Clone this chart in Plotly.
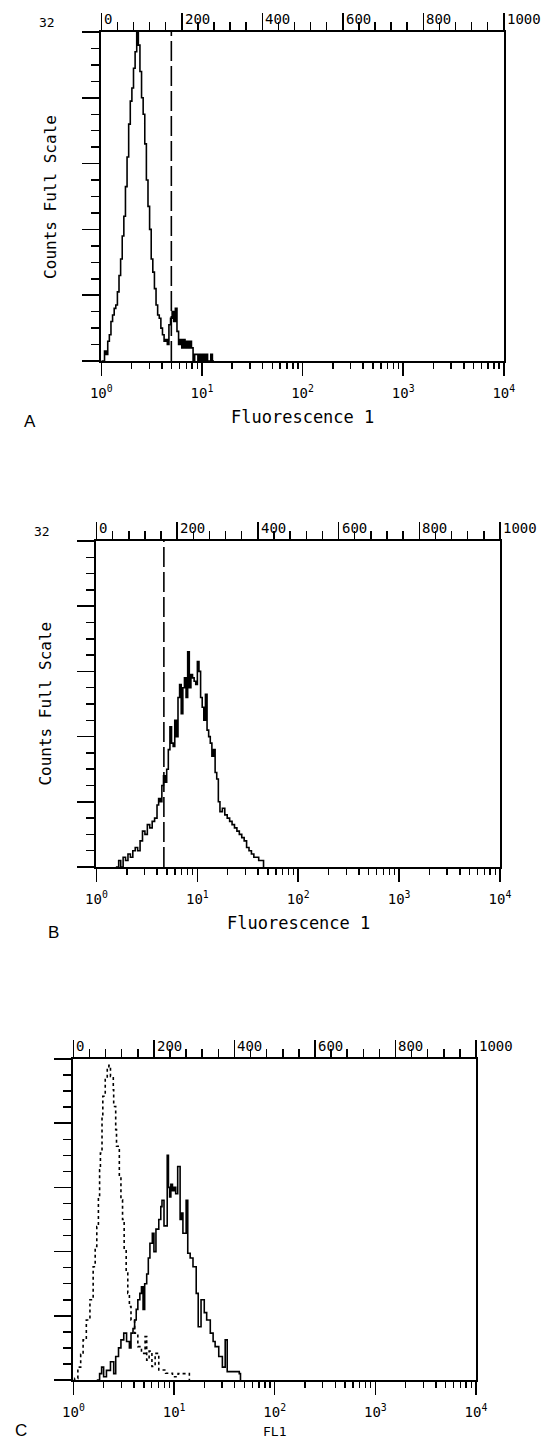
import plotly.graph_objects as go

W, H = 559, 1441

# ---------------- data (channel 0-1000 spans 10^0..10^4; counts as fraction of full scale) -------------
A_CH = [0, 4, 8, 12, 16, 20, 24, 28, 32, 36, 40, 44, 48, 52, 56, 60, 64, 68, 72, 76, 80, 84, 88,
        92, 96, 100, 104, 108, 112, 116, 120, 124, 128, 132, 136, 140, 144, 148, 152, 156, 160,
        164, 168, 172, 176, 180, 184, 188, 192, 196, 200, 204, 208, 212, 216, 220, 224, 228,
        232, 236, 240, 244, 248, 252, 256, 260, 264, 272, 276, 280]
A_CNT = [0, 0.0, 0.03, 0.02, 0.06, 0.08, 0.12, 0.14, 0.16, 0.17, 0.21, 0.26, 0.31, 0.38, 0.44,
         0.53, 0.62, 0.72, 0.79, 0.83, 0.89, 0.94, 1.0, 0.96, 0.88, 0.80, 0.75, 0.66, 0.55, 0.47,
         0.40, 0.31, 0.27, 0.22, 0.17, 0.14, 0.13, 0.10, 0.08, 0.06, 0.065, 0.05, 0.11, 0.13,
         0.15, 0.12, 0.16, 0.09, 0.05, 0.065, 0.04, 0.065, 0.04, 0.06, 0.04, 0.06, 0.04, 0.0,
         0.02, 0.02, 0.0, 0.02, 0.0, 0.02, 0.0, 0.02, 0.0, 0.02, 0.0, 0]

B_CH = [48, 55, 60, 66, 72, 78, 84, 90, 96, 102, 108, 114, 120, 126, 132, 138, 144, 150, 154,
        158, 162, 166, 170, 174, 178, 182, 186, 190, 194, 198, 202, 206, 210, 214, 218, 222,
        226, 230, 234, 238, 242, 246, 250, 254, 258, 262, 266, 270, 274, 278, 282, 286, 290,
        294, 298, 302, 306, 312, 318, 324, 330, 336, 342, 348, 354, 360, 366, 372, 378, 384,
        390, 396, 402, 408, 414]
B_CNT = [0, 0.02, 0.0, 0.03, 0.02, 0.04, 0.03, 0.05, 0.06, 0.05, 0.08, 0.11, 0.10, 0.13, 0.12,
         0.14, 0.15, 0.19, 0.21, 0.20, 0.25, 0.28, 0.26, 0.30, 0.36, 0.43, 0.38, 0.37, 0.45,
         0.40, 0.52, 0.56, 0.47, 0.55, 0.58, 0.52, 0.66, 0.55, 0.59, 0.58, 0.57, 0.56, 0.63,
         0.60, 0.52, 0.49, 0.45, 0.53, 0.42, 0.40, 0.38, 0.34, 0.36, 0.29, 0.27, 0.20, 0.17,
         0.18, 0.16, 0.15, 0.14, 0.13, 0.12, 0.11, 0.10, 0.09, 0.08, 0.06, 0.05, 0.04, 0.03,
         0.03, 0.02, 0.02, 0.0]

C_CH = [58, 65, 70, 75, 82, 92, 100, 105, 112, 118, 125, 132, 139, 143, 148, 152, 156, 160, 165,
        169, 173, 177, 182, 186, 190, 196, 200, 205, 212, 217, 220, 225, 233, 236, 239, 242,
        246, 250, 254, 259, 265, 269, 272, 280, 284, 290, 297, 305, 310, 317, 325, 331, 340,
        347, 352, 361, 370, 377, 382, 400, 412, 415]
C_CNT = [0, 0.02, 0.04, 0.01, 0.03, 0.057, 0.02, 0.073, 0.10, 0.125, 0.146, 0.12, 0.10, 0.146,
         0.16, 0.187, 0.22, 0.25, 0.27, 0.29, 0.22, 0.30, 0.33, 0.38, 0.426, 0.457, 0.40, 0.47,
         0.50, 0.54, 0.56, 0.48, 0.70, 0.60, 0.57, 0.61, 0.59, 0.60, 0.58, 0.665, 0.50, 0.52,
         0.457, 0.56, 0.395, 0.38, 0.353, 0.27, 0.166, 0.25, 0.21, 0.187, 0.146, 0.12, 0.104,
         0.073, 0.04, 0.125, 0.026, 0.026, 0.02, 0]

CTRL_CH = [0, 3, 11, 18, 24, 32, 41, 49, 54, 58, 62, 65, 67, 71, 73, 79, 84, 88, 92, 99, 100,
           105, 107, 114, 118, 122, 126, 131, 135, 139, 143, 152, 160, 169, 178, 182, 188, 195,
           203, 212, 229, 246, 260, 275, 288]
CTRL_CNT = [0, 0.005, 0.04, 0.08, 0.125, 0.187, 0.25, 0.353, 0.416, 0.478, 0.572, 0.655, 0.707,
            0.82, 0.884, 0.936, 0.967, 0.98, 0.946, 0.904, 0.852, 0.78, 0.728, 0.634, 0.561, 0.5,
            0.405, 0.333, 0.27, 0.229, 0.187, 0.146, 0.104, 0.083, 0.135, 0.062, 0.09, 0.042,
            0.083, 0.031, 0.021, 0.01, 0.02, 0.02, 0]

GATE_A = 174   # channel of dashed marker, panel A
GATE_B = 167   # channel of dashed marker, panel B

TOP_TICKS = [0, 200, 400, 600, 800, 1000]
TOP_MINOR = [c for c in range(40, 1000, 40) if c % 200]
DECADES = [1, 10, 100, 1000, 10000]
DECADE_TEXT = ["10<sup>0</sup>", "10<sup>1</sup>", "10<sup>2</sup>", "10<sup>3</sup>", "10<sup>4</sup>"]
LOG_MINOR = [m * 10 ** d for d in range(4) for m in range(2, 10)]
Y_MAJOR = [0, 0.2, 0.4, 0.6, 0.8, 1.0]
Y_MINOR = [i * 0.05 for i in range(1, 20) if i % 4]
FULL_SCALE = "32"
YTITLE = "Counts Full Scale"
XTITLES = ["Fluorescence 1", "Fluorescence 1", "FL1"]
LETTERS = ["A", "B", "C"]

MONO = "DejaVu Sans Mono"


def ch2fl(chs):
    return [10 ** (c / 250.0) for c in chs]


def fx(px):
    return px / W


def fy(py):
    return 1 - py / H


# panel boxes in pixels: left, right, top, bottom
BOXES = [(94, 513, 32, 361), (89, 509, 541, 867), (65, 484, 1059, 1380)]

fig = go.Figure()
layout = dict(width=W, height=H, margin=dict(l=0, r=0, t=0, b=0),
              paper_bgcolor="white", plot_bgcolor="white", showlegend=False)
annotations = []

hist = [(A_CH, A_CNT), (B_CH, B_CNT), (C_CH, C_CNT)]
gates = [GATE_A, GATE_B, None]

for k in range(3):
    l, r, t, b = BOXES[k]
    xb = "x" if k == 0 else f"x{2 * k + 1}"
    xt = f"x{2 * k + 2}"
    yy = "y" if k == 0 else f"y{k + 1}"
    xb_key = "xaxis" if k == 0 else f"xaxis{2 * k + 1}"
    xt_key = f"xaxis{2 * k + 2}"
    y_key = "yaxis" if k == 0 else f"yaxis{k + 1}"

    dom_x = [fx(l), fx(r)]
    dom_y = [fy(b), fy(t)]

    layout[xb_key] = dict(type="log", range=[0, 4], domain=dom_x, anchor=yy,
                          showgrid=False, zeroline=False, showline=True, linecolor="black",
                          linewidth=2, ticks="outside", ticklen=13, tickwidth=1.5,
                          tickcolor="black", tickvals=DECADES, ticktext=DECADE_TEXT,
                          tickfont=dict(family=MONO, size=14, color="black"),
                          ticklabelstandoff=5,
                          minor=dict(tickmode="array", tickvals=LOG_MINOR, ticks="outside",
                                     ticklen=6, tickwidth=1.5, tickcolor="black",
                                     showgrid=False))
    layout[xt_key] = dict(range=[0, 1000], overlaying=xb, side="top", anchor=yy,
                          showgrid=False, zeroline=False, showline=True, linecolor="black",
                          linewidth=2, ticks="outside", ticklen=17, tickwidth=1.5,
                          tickcolor="black", tickvals=TOP_TICKS, showticklabels=False,
                          minor=dict(tickmode="array", tickvals=TOP_MINOR, ticks="outside",
                                     ticklen=8, tickwidth=1.5, tickcolor="black",
                                     showgrid=False))
    layout[y_key] = dict(range=[0, 1], domain=dom_y, anchor=xb, showgrid=False,
                         zeroline=False, showline=True, mirror=True, linecolor="black",
                         linewidth=2, ticks="outside", ticklen=17, tickwidth=1.5,
                         tickcolor="black", tickvals=Y_MAJOR, showticklabels=False,
                         minor=dict(tickmode="array", tickvals=Y_MINOR, ticks="outside",
                                    ticklen=8, tickwidth=1.5, tickcolor="black",
                                    showgrid=False))

    chs, cnt = hist[k]
    if k == 2:
        fig.add_trace(go.Scatter(x=ch2fl(CTRL_CH), y=CTRL_CNT, mode="lines", line_shape="hv",
                                 line=dict(color="black", width=1.6, dash="dot"),
                                 xaxis=xb, yaxis=yy, hoverinfo="skip"))
    fig.add_trace(go.Scatter(x=ch2fl(chs), y=cnt, mode="lines", line_shape="hv",
                             line=dict(color="black", width=1.6),
                             xaxis=xb, yaxis=yy, hoverinfo="skip"))
    if gates[k] is not None:
        fig.add_trace(go.Scatter(x=[gates[k], gates[k]], y=[0, 1], mode="lines",
                                 line=dict(color="black", width=1.6, dash="20px,5px"),
                                 xaxis=xt, yaxis=yy, hoverinfo="skip"))
    else:
        fig.add_trace(go.Scatter(x=[], y=[], mode="lines", xaxis=xt, yaxis=yy,
                                 hoverinfo="skip"))

    # top channel labels, to the right of the major tick tops
    for v in TOP_TICKS:
        annotations.append(dict(x=v, xref=xt, y=fy(t), yref="paper", text=str(v),
                                showarrow=False, xanchor="left", yanchor="bottom",
                                xshift=1, yshift=3,
                                font=dict(family=MONO, size=14, color="black")))
    # full-scale value
    if k < 2:
        annotations.append(dict(x=fx(l - 57), xref="paper", y=fy(t - 10), yref="paper",
                                text=FULL_SCALE, showarrow=False, xanchor="center",
                                yanchor="middle", font=dict(family=MONO, size=13, color="black")))
        annotations.append(dict(x=fx(l - 53), xref="paper", y=fy((t + b) / 2), yref="paper",
                                text=YTITLE, textangle=-90, showarrow=False,
                                xanchor="center", yanchor="middle",
                                font=dict(family=MONO, size=16, color="black")))
    # x title
    ty = [b + 56, b + 56, b + 51][k]
    tsize = [17, 17, 13][k]
    annotations.append(dict(x=fx((l + r) / 2), xref="paper", y=fy(ty), yref="paper",
                            text=XTITLES[k], showarrow=False, xanchor="center",
                            yanchor="middle", font=dict(family=MONO, size=tsize, color="black")))
    # panel letter
    lx = [20, 44, 10][k]
    ly = [b + 60, b + 66, b + 50][k]
    annotations.append(dict(x=fx(lx), xref="paper", y=fy(ly), yref="paper", text=LETTERS[k],
                            showarrow=False, xanchor="center", yanchor="middle",
                            font=dict(family="Liberation Sans", size=17, color="black")))

layout["annotations"] = annotations
fig.update_layout(**layout)
fig.write_html("out.html",
               config={"displayModeBar": False, "staticPlot": True},
               post_script="document.body.style.margin='0';"
                           "document.body.style.overflow='hidden';")
